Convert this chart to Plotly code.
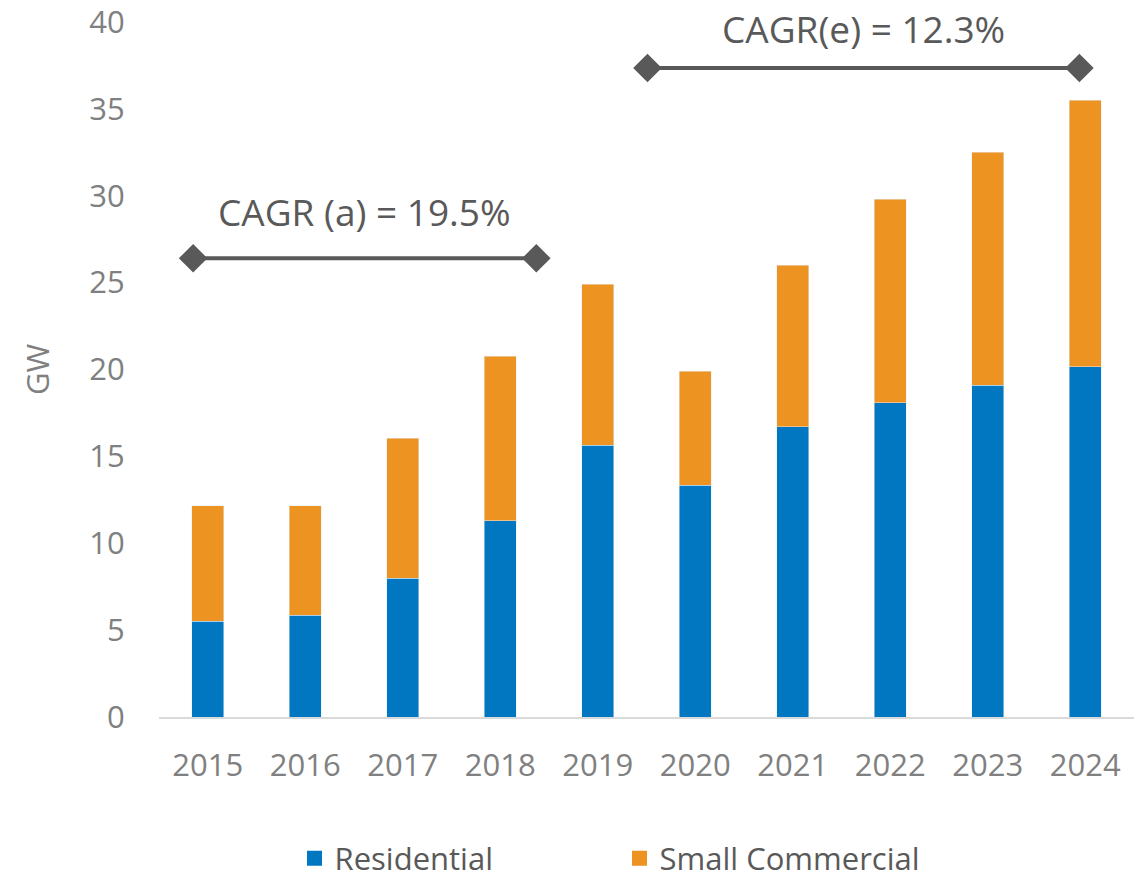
import plotly.graph_objects as go

# data (GW)
years = [2015, 2016, 2017, 2018, 2019, 2020, 2021, 2022, 2023, 2024]
residential = [5.5, 5.85, 8.0, 11.3, 15.65, 13.35, 16.7, 18.1, 19.1, 20.15]
small_commercial = [6.65, 6.3, 8.05, 9.45, 9.25, 6.55, 9.3, 11.7, 13.4, 15.35]

# CAGR brackets
cagr_actual_x = [2014.85, 2018.37]
cagr_actual_y = [26.4, 26.4]
cagr_est_x = [2019.51, 2023.94]
cagr_est_y = [37.35, 37.35]

blue = "#0077C0"
orange = "#EC9322"
dark = "#595959"
grey = "#808080"

fig = go.Figure()
fig.add_trace(go.Bar(x=years, y=residential, name="Residential", marker_color=blue,
                     legendgroup="res", showlegend=False))
fig.add_trace(go.Bar(x=years, y=small_commercial, name="Small Commercial", marker_color=orange,
                     legendgroup="sc", showlegend=False))

# legend entries with bigger square swatches
for name, col, grp in [("Residential", blue, "res"), ("Small Commercial", orange, "sc")]:
    fig.add_trace(go.Scatter(x=[None], y=[None], mode="markers", name=name, legendgroup=grp,
                             marker=dict(symbol="square", size=15, color=col)))

# the two bracket lines with diamond ends
for xs, ys in [(cagr_actual_x, cagr_actual_y), (cagr_est_x, cagr_est_y)]:
    fig.add_trace(go.Scatter(
        x=xs, y=ys, mode="lines+markers", showlegend=False, hoverinfo="skip",
        line=dict(color=dark, width=4),
        marker=dict(symbol="diamond", size=22, color=dark)))

fig.add_annotation(x=(cagr_actual_x[0] + cagr_actual_x[1]) / 2, y=29.1,
                   text="CAGR (a) = 19.5%", showarrow=False,
                   font=dict(size=37, color=dark))
fig.add_annotation(x=(cagr_est_x[0] + cagr_est_x[1]) / 2, y=39.65,
                   text="CAGR(e) = 12.3%", showarrow=False,
                   font=dict(size=37, color=dark))

# page body has an 8px margin, so margins are offset to compensate
fig.update_layout(
    barmode="stack",
    bargap=0.67,
    width=1142, height=878,
    margin=dict(l=151, r=16, t=14, b=169, autoexpand=False),
    plot_bgcolor="white", paper_bgcolor="white",
    font=dict(family="Open Sans", size=31, color=grey),
    legend=dict(orientation="h", x=0.139, xanchor="left", y=-0.165, yanchor="top",
                traceorder="normal",
                font=dict(size=31, color=dark),
                entrywidth=280, entrywidthmode="pixels"),
)
fig.update_xaxes(
    tickmode="array", tickvals=years, ticktext=[str(y) for y in years],
    range=[2014.5, 2024.5], showgrid=False, zeroline=False,
    showline=True, linecolor="#d9d9d9", linewidth=2,
    ticks="outside", ticklen=20, tickcolor="rgba(0,0,0,0)",
    tickfont=dict(size=31, color=grey), automargin=False,
)
fig.update_yaxes(
    range=[0, 40], dtick=5, showgrid=False, zeroline=False, showline=False,
    ticks="outside", ticklen=27, tickcolor="rgba(0,0,0,0)",
    tickfont=dict(size=31, color=grey), automargin=False,
    ticklabeloverflow="allow",
    title=dict(text="GW", font=dict(size=31, color=grey), standoff=30),
)

fig.write_html("out.html")
